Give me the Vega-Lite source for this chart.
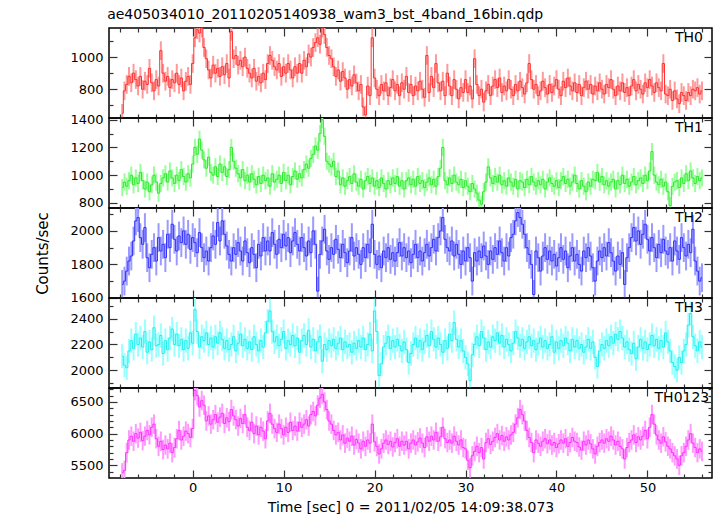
{
"$schema": "https://vega.github.io/schema/vega-lite/v6.json",
"autosize": {"type": "pad"},
"padding": {"left": 35, "top": 8, "right": 5, "bottom": 2},
"title": {"text": "ae405034010_20110205140938_wam3_bst_4band_16bin.qdp", "anchor": "start", "frame": "bounds", "dx": 72, "offset": 3, "fontSize": 14, "fontWeight": "normal", "font": "DejaVu Sans", "color": "#000"},
"data": {"values": [
{"t":-7.75,"a":650,"b":910,"c":1680,"d":2110,"e":5380,"ea":58,"eb":62,"ec":86,"ed":94,"ee":154},{"t":-7.5,"a":790,"b":950,"c":1700,"d":2040,"e":5420,"ea":58,"eb":62,"ec":86,"ed":94,"ee":154},{"t":-7.25,"a":830,"b":920,"c":1760,"d":2020,"e":5700,"ea":58,"eb":62,"ec":86,"ed":94,"ee":154},{"t":-7,"a":880,"b":960,"c":1820,"d":2150,"e":5900,"ea":58,"eb":62,"ec":86,"ed":94,"ee":154},
{"t":-6.75,"a":840,"b":1000,"c":1850,"d":2230,"e":5960,"ea":58,"eb":62,"ec":86,"ed":94,"ee":154},{"t":-6.5,"a":900,"b":930,"c":1940,"d":2170,"e":5880,"ea":58,"eb":62,"ec":86,"ed":94,"ee":154},{"t":-6.25,"a":860,"b":980,"c":2060,"d":2280,"e":6000,"ea":58,"eb":62,"ec":86,"ed":94,"ee":154},{"t":-6,"a":820,"b":940,"c":2080,"d":2200,"e":5930,"ea":58,"eb":62,"ec":86,"ed":94,"ee":154},
{"t":-5.75,"a":880,"b":1020,"c":1960,"d":2250,"e":6020,"ea":58,"eb":62,"ec":86,"ed":94,"ee":154},{"t":-5.5,"a":800,"b":960,"c":1920,"d":2180,"e":5890,"ea":58,"eb":62,"ec":86,"ed":94,"ee":154},{"t":-5.25,"a":850,"b":900,"c":2020,"d":2300,"e":5960,"ea":58,"eb":62,"ec":86,"ed":94,"ee":154},{"t":-5,"a":830,"b":950,"c":1840,"d":2140,"e":6050,"ea":58,"eb":62,"ec":86,"ed":94,"ee":154},
{"t":-4.75,"a":930,"b":880,"c":1780,"d":2220,"e":5980,"ea":58,"eb":62,"ec":86,"ed":94,"ee":154},{"t":-4.5,"a":840,"b":930,"c":1860,"d":2160,"e":6100,"ea":58,"eb":62,"ec":86,"ed":94,"ee":154},{"t":-4.25,"a":790,"b":1000,"c":1900,"d":2330,"e":6150,"ea":58,"eb":62,"ec":86,"ed":94,"ee":154},{"t":-4,"a":860,"b":950,"c":1820,"d":2190,"e":5920,"ea":58,"eb":62,"ec":86,"ed":94,"ee":154},
{"t":-3.75,"a":820,"b":870,"c":1960,"d":2200,"e":5800,"ea":58,"eb":62,"ec":86,"ed":94,"ee":154},{"t":-3.5,"a":1040,"b":940,"c":1880,"d":2270,"e":5880,"ea":58,"eb":62,"ec":86,"ed":94,"ee":154},{"t":-3.25,"a":900,"b":980,"c":1920,"d":2130,"e":5750,"ea":58,"eb":62,"ec":86,"ed":94,"ee":154},{"t":-3,"a":850,"b":1010,"c":1840,"d":2230,"e":5820,"ea":58,"eb":62,"ec":86,"ed":94,"ee":154},
{"t":-2.75,"a":880,"b":950,"c":1980,"d":2160,"e":5760,"ea":58,"eb":62,"ec":86,"ed":94,"ee":154},{"t":-2.5,"a":810,"b":1030,"c":1900,"d":2250,"e":5850,"ea":58,"eb":62,"ec":86,"ed":94,"ee":154},{"t":-2.25,"a":860,"b":980,"c":2040,"d":2320,"e":5700,"ea":58,"eb":62,"ec":86,"ed":94,"ee":154},{"t":-2,"a":840,"b":940,"c":1950,"d":2200,"e":5780,"ea":58,"eb":62,"ec":86,"ed":94,"ee":154},
{"t":-1.75,"a":900,"b":1000,"c":1880,"d":2280,"e":5920,"ea":58,"eb":62,"ec":86,"ed":94,"ee":154},{"t":-1.5,"a":830,"b":960,"c":1970,"d":2190,"e":6050,"ea":58,"eb":62,"ec":86,"ed":94,"ee":154},{"t":-1.25,"a":870,"b":1040,"c":1930,"d":2240,"e":5900,"ea":58,"eb":62,"ec":86,"ed":94,"ee":154},{"t":-1,"a":790,"b":990,"c":2000,"d":2160,"e":5960,"ea":58,"eb":62,"ec":86,"ed":94,"ee":154},
{"t":-0.75,"a":850,"b":950,"c":1920,"d":2230,"e":6040,"ea":58,"eb":62,"ec":86,"ed":94,"ee":154},{"t":-0.5,"a":880,"b":1010,"c":1980,"d":2170,"e":6000,"ea":58,"eb":62,"ec":86,"ed":94,"ee":154},{"t":-0.25,"a":830,"b":980,"c":1890,"d":2290,"e":5940,"ea":58,"eb":62,"ec":86,"ed":94,"ee":154},{"t":0,"a":960,"b":1080,"c":1960,"d":2210,"e":6080,"ea":58,"eb":62,"ec":86,"ed":94,"ee":154},
{"t":0.25,"a":1120,"b":1200,"c":1930,"d":2470,"e":6680,"ea":58,"eb":62,"ec":86,"ed":94,"ee":154},{"t":0.5,"a":1170,"b":1150,"c":1870,"d":2300,"e":6600,"ea":58,"eb":62,"ec":86,"ed":94,"ee":154},{"t":0.75,"a":1150,"b":1260,"c":1990,"d":2180,"e":6420,"ea":58,"eb":62,"ec":86,"ed":94,"ee":154},{"t":1,"a":1180,"b":1180,"c":1900,"d":2260,"e":6520,"ea":58,"eb":62,"ec":86,"ed":94,"ee":154},
{"t":1.25,"a":1060,"b":1110,"c":1840,"d":2230,"e":6450,"ea":58,"eb":62,"ec":86,"ed":94,"ee":154},{"t":1.5,"a":990,"b":1050,"c":1880,"d":2290,"e":6200,"ea":58,"eb":62,"ec":86,"ed":94,"ee":154},{"t":1.75,"a":920,"b":1130,"c":1820,"d":2200,"e":6280,"ea":58,"eb":62,"ec":86,"ed":94,"ee":154},{"t":2,"a":870,"b":1020,"c":1900,"d":2250,"e":6150,"ea":58,"eb":62,"ec":86,"ed":94,"ee":154},
{"t":2.25,"a":950,"b":1000,"c":1970,"d":2180,"e":6220,"ea":58,"eb":62,"ec":86,"ed":94,"ee":154},{"t":2.5,"a":900,"b":1060,"c":1920,"d":2260,"e":6300,"ea":58,"eb":62,"ec":86,"ed":94,"ee":154},{"t":2.75,"a":930,"b":990,"c":2050,"d":2210,"e":6180,"ea":58,"eb":62,"ec":86,"ed":94,"ee":154},{"t":3,"a":880,"b":1080,"c":1940,"d":2290,"e":6260,"ea":58,"eb":62,"ec":86,"ed":94,"ee":154},
{"t":3.25,"a":940,"b":1020,"c":2060,"d":2240,"e":6320,"ea":58,"eb":62,"ec":86,"ed":94,"ee":154},{"t":3.5,"a":890,"b":1060,"c":1980,"d":2170,"e":6160,"ea":58,"eb":62,"ec":86,"ed":94,"ee":154},{"t":3.75,"a":960,"b":990,"c":1910,"d":2230,"e":6250,"ea":58,"eb":62,"ec":86,"ed":94,"ee":154},{"t":4,"a":870,"b":1040,"c":1860,"d":2160,"e":6190,"ea":58,"eb":62,"ec":86,"ed":94,"ee":154},
{"t":4.25,"a":1160,"b":1200,"c":1820,"d":2200,"e":6380,"ea":58,"eb":62,"ec":86,"ed":94,"ee":154},{"t":4.5,"a":990,"b":1100,"c":1900,"d":2260,"e":6280,"ea":58,"eb":62,"ec":86,"ed":94,"ee":154},{"t":4.75,"a":1010,"b":1050,"c":1860,"d":2150,"e":6220,"ea":58,"eb":62,"ec":86,"ed":94,"ee":154},{"t":5,"a":950,"b":1010,"c":1930,"d":2210,"e":6120,"ea":58,"eb":62,"ec":86,"ed":94,"ee":154},
{"t":5.25,"a":980,"b":980,"c":1880,"d":2280,"e":6240,"ea":58,"eb":62,"ec":86,"ed":94,"ee":154},{"t":5.5,"a":940,"b":1040,"c":1820,"d":2190,"e":6160,"ea":58,"eb":62,"ec":86,"ed":94,"ee":154},{"t":5.75,"a":1000,"b":960,"c":1940,"d":2240,"e":6300,"ea":58,"eb":62,"ec":86,"ed":94,"ee":154},{"t":6,"a":930,"b":1000,"c":1870,"d":2170,"e":6100,"ea":58,"eb":62,"ec":86,"ed":94,"ee":154},
{"t":6.25,"a":900,"b":950,"c":1810,"d":2220,"e":6050,"ea":58,"eb":62,"ec":86,"ed":94,"ee":154},{"t":6.5,"a":870,"b":1010,"c":1900,"d":2160,"e":6180,"ea":58,"eb":62,"ec":86,"ed":94,"ee":154},{"t":6.75,"a":930,"b":970,"c":1860,"d":2260,"e":6000,"ea":58,"eb":62,"ec":86,"ed":94,"ee":154},{"t":7,"a":850,"b":930,"c":1780,"d":2200,"e":6120,"ea":58,"eb":62,"ec":86,"ed":94,"ee":154},
{"t":7.25,"a":880,"b":990,"c":1920,"d":2150,"e":5980,"ea":58,"eb":62,"ec":86,"ed":94,"ee":154},{"t":7.5,"a":840,"b":940,"c":1850,"d":2230,"e":6100,"ea":58,"eb":62,"ec":86,"ed":94,"ee":154},{"t":7.75,"a":900,"b":1000,"c":1960,"d":2180,"e":6040,"ea":58,"eb":62,"ec":86,"ed":94,"ee":154},{"t":8,"a":860,"b":960,"c":1880,"d":2290,"e":5920,"ea":58,"eb":62,"ec":86,"ed":94,"ee":154},
{"t":8.25,"a":960,"b":980,"c":1940,"d":2380,"e":6200,"ea":58,"eb":62,"ec":86,"ed":94,"ee":154},{"t":8.5,"a":1010,"b":920,"c":1880,"d":2460,"e":6320,"ea":58,"eb":62,"ec":86,"ed":94,"ee":154},{"t":8.75,"a":980,"b":1010,"c":1990,"d":2300,"e":6150,"ea":58,"eb":62,"ec":86,"ed":94,"ee":154},{"t":9,"a":940,"b":950,"c":1920,"d":2220,"e":6080,"ea":58,"eb":62,"ec":86,"ed":94,"ee":154},
{"t":9.25,"a":920,"b":970,"c":1860,"d":2260,"e":6020,"ea":58,"eb":62,"ec":86,"ed":94,"ee":154},{"t":9.5,"a":960,"b":1000,"c":1950,"d":2190,"e":6150,"ea":58,"eb":62,"ec":86,"ed":94,"ee":154},{"t":9.75,"a":880,"b":940,"c":1900,"d":2240,"e":6080,"ea":58,"eb":62,"ec":86,"ed":94,"ee":154},{"t":10,"a":940,"b":1020,"c":1980,"d":2300,"e":5980,"ea":58,"eb":62,"ec":86,"ed":94,"ee":154},
{"t":10.25,"a":900,"b":960,"c":1910,"d":2170,"e":6100,"ea":58,"eb":62,"ec":86,"ed":94,"ee":154},{"t":10.5,"a":960,"b":1000,"c":1960,"d":2230,"e":6020,"ea":58,"eb":62,"ec":86,"ed":94,"ee":154},{"t":10.75,"a":920,"b":930,"c":1870,"d":2200,"e":6180,"ea":58,"eb":62,"ec":86,"ed":94,"ee":154},{"t":11,"a":870,"b":990,"c":1940,"d":2270,"e":6050,"ea":58,"eb":62,"ec":86,"ed":94,"ee":154},
{"t":11.25,"a":940,"b":1030,"c":1990,"d":2190,"e":6120,"ea":58,"eb":62,"ec":86,"ed":94,"ee":154},{"t":11.5,"a":900,"b":970,"c":1920,"d":2250,"e":6040,"ea":58,"eb":62,"ec":86,"ed":94,"ee":154},{"t":11.75,"a":960,"b":1010,"c":1880,"d":2140,"e":6180,"ea":58,"eb":62,"ec":86,"ed":94,"ee":154},{"t":12,"a":900,"b":980,"c":1960,"d":2230,"e":6100,"ea":58,"eb":62,"ec":86,"ed":94,"ee":154},
{"t":12.25,"a":980,"b":1040,"c":1900,"d":2270,"e":6150,"ea":58,"eb":62,"ec":86,"ed":94,"ee":154},{"t":12.5,"a":940,"b":1080,"c":1850,"d":2200,"e":6220,"ea":58,"eb":62,"ec":86,"ed":94,"ee":154},{"t":12.75,"a":1020,"b":1050,"c":1940,"d":2310,"e":6120,"ea":58,"eb":62,"ec":86,"ed":94,"ee":154},{"t":13,"a":1000,"b":1120,"c":1870,"d":2180,"e":6300,"ea":58,"eb":62,"ec":86,"ed":94,"ee":154},
{"t":13.25,"a":1060,"b":1150,"c":2000,"d":2240,"e":6350,"ea":58,"eb":62,"ec":86,"ed":94,"ee":154},{"t":13.5,"a":1090,"b":1210,"c":1920,"d":2150,"e":6280,"ea":58,"eb":62,"ec":86,"ed":94,"ee":154},{"t":13.75,"a":1120,"b":1180,"c":1640,"d":2220,"e":6450,"ea":58,"eb":62,"ec":86,"ed":94,"ee":154},{"t":14,"a":1080,"b":1300,"c":1860,"d":2260,"e":6560,"ea":58,"eb":62,"ec":86,"ed":94,"ee":154},
{"t":14.25,"a":1180,"b":1400,"c":1940,"d":2070,"e":6620,"ea":58,"eb":62,"ec":86,"ed":94,"ee":154},{"t":14.5,"a":1140,"b":1280,"c":2010,"d":2200,"e":6500,"ea":58,"eb":62,"ec":86,"ed":94,"ee":154},{"t":14.75,"a":1060,"b":1100,"c":1880,"d":2160,"e":6380,"ea":58,"eb":62,"ec":86,"ed":94,"ee":154},{"t":15,"a":1010,"b":1080,"c":1830,"d":2230,"e":6200,"ea":58,"eb":62,"ec":86,"ed":94,"ee":154},
{"t":15.25,"a":990,"b":1060,"c":1900,"d":2190,"e":6150,"ea":58,"eb":62,"ec":86,"ed":94,"ee":154},{"t":15.5,"a":940,"b":1100,"c":1860,"d":2240,"e":6050,"ea":58,"eb":62,"ec":86,"ed":94,"ee":154},{"t":15.75,"a":880,"b":990,"c":1950,"d":2170,"e":5980,"ea":58,"eb":62,"ec":86,"ed":94,"ee":154},{"t":16,"a":920,"b":1030,"c":1890,"d":2210,"e":6020,"ea":58,"eb":62,"ec":86,"ed":94,"ee":154},
{"t":16.25,"a":850,"b":930,"c":1840,"d":2250,"e":5900,"ea":58,"eb":62,"ec":86,"ed":94,"ee":154},{"t":16.5,"a":910,"b":980,"c":1920,"d":2160,"e":5980,"ea":58,"eb":62,"ec":86,"ed":94,"ee":154},{"t":16.75,"a":870,"b":920,"c":1870,"d":2220,"e":5850,"ea":58,"eb":62,"ec":86,"ed":94,"ee":154},{"t":17,"a":800,"b":960,"c":1810,"d":2180,"e":5930,"ea":58,"eb":62,"ec":86,"ed":94,"ee":154},
{"t":17.25,"a":860,"b":990,"c":1880,"d":2200,"e":5880,"ea":58,"eb":62,"ec":86,"ed":94,"ee":154},{"t":17.5,"a":820,"b":940,"c":1960,"d":2140,"e":5960,"ea":58,"eb":62,"ec":86,"ed":94,"ee":154},{"t":17.75,"a":890,"b":1010,"c":1850,"d":2210,"e":5820,"ea":58,"eb":62,"ec":86,"ed":94,"ee":154},{"t":18,"a":840,"b":950,"c":1900,"d":2170,"e":5910,"ea":58,"eb":62,"ec":86,"ed":94,"ee":154},
{"t":18.25,"a":790,"b":920,"c":1860,"d":2230,"e":5850,"ea":58,"eb":62,"ec":86,"ed":94,"ee":154},{"t":18.5,"a":830,"b":970,"c":1800,"d":2180,"e":5760,"ea":58,"eb":62,"ec":86,"ed":94,"ee":154},{"t":18.75,"a":690,"b":900,"c":1900,"d":2250,"e":5880,"ea":58,"eb":62,"ec":86,"ed":94,"ee":154},{"t":19,"a":640,"b":960,"c":1840,"d":2160,"e":5800,"ea":58,"eb":62,"ec":86,"ed":94,"ee":154},
{"t":19.25,"a":820,"b":990,"c":1920,"d":2200,"e":5900,"ea":58,"eb":62,"ec":86,"ed":94,"ee":154},{"t":19.5,"a":760,"b":940,"c":1870,"d":2280,"e":5850,"ea":58,"eb":62,"ec":86,"ed":94,"ee":154},{"t":19.75,"a":1120,"b":980,"c":2040,"d":2150,"e":6150,"ea":58,"eb":62,"ec":86,"ed":94,"ee":154},{"t":20,"a":870,"b":920,"c":1860,"d":2460,"e":5870,"ea":58,"eb":62,"ec":86,"ed":94,"ee":154},
{"t":20.25,"a":800,"b":960,"c":1800,"d":2300,"e":5800,"ea":58,"eb":62,"ec":86,"ed":94,"ee":154},{"t":20.5,"a":760,"b":910,"c":1850,"d":1960,"e":5680,"ea":58,"eb":62,"ec":86,"ed":94,"ee":154},{"t":20.75,"a":830,"b":980,"c":1780,"d":2050,"e":5760,"ea":58,"eb":62,"ec":86,"ed":94,"ee":154},{"t":21,"a":790,"b":940,"c":1880,"d":2180,"e":5850,"ea":58,"eb":62,"ec":86,"ed":94,"ee":154},
{"t":21.25,"a":840,"b":900,"c":1840,"d":2210,"e":5900,"ea":58,"eb":62,"ec":86,"ed":94,"ee":154},{"t":21.5,"a":760,"b":960,"c":1900,"d":2260,"e":5830,"ea":58,"eb":62,"ec":86,"ed":94,"ee":154},{"t":21.75,"a":810,"b":930,"c":1830,"d":2170,"e":5880,"ea":58,"eb":62,"ec":86,"ed":94,"ee":154},{"t":22,"a":860,"b":980,"c":1870,"d":2230,"e":5790,"ea":58,"eb":62,"ec":86,"ed":94,"ee":154},
{"t":22.25,"a":790,"b":940,"c":1820,"d":2180,"e":5860,"ea":58,"eb":62,"ec":86,"ed":94,"ee":154},{"t":22.5,"a":830,"b":990,"c":1870,"d":2240,"e":5920,"ea":58,"eb":62,"ec":86,"ed":94,"ee":154},{"t":22.75,"a":760,"b":920,"c":1930,"d":2190,"e":5800,"ea":58,"eb":62,"ec":86,"ed":94,"ee":154},{"t":23,"a":840,"b":960,"c":1850,"d":2150,"e":5880,"ea":58,"eb":62,"ec":86,"ed":94,"ee":154},
{"t":23.25,"a":800,"b":900,"c":1900,"d":2220,"e":5820,"ea":58,"eb":62,"ec":86,"ed":94,"ee":154},{"t":23.5,"a":880,"b":960,"c":1840,"d":2160,"e":5880,"ea":58,"eb":62,"ec":86,"ed":94,"ee":154},{"t":23.75,"a":780,"b":980,"c":1880,"d":2060,"e":5760,"ea":58,"eb":62,"ec":86,"ed":94,"ee":154},{"t":24,"a":830,"b":930,"c":1810,"d":2130,"e":5850,"ea":58,"eb":62,"ec":86,"ed":94,"ee":154},
{"t":24.25,"a":760,"b":970,"c":1860,"d":2200,"e":5900,"ea":58,"eb":62,"ec":86,"ed":94,"ee":154},{"t":24.5,"a":820,"b":920,"c":1920,"d":2250,"e":5820,"ea":58,"eb":62,"ec":86,"ed":94,"ee":154},{"t":24.75,"a":790,"b":990,"c":1840,"d":2180,"e":5870,"ea":58,"eb":62,"ec":86,"ed":94,"ee":154},{"t":25,"a":850,"b":940,"c":1880,"d":2230,"e":5930,"ea":58,"eb":62,"ec":86,"ed":94,"ee":154},
{"t":25.25,"a":800,"b":960,"c":1820,"d":2160,"e":5850,"ea":58,"eb":62,"ec":86,"ed":94,"ee":154},{"t":25.5,"a":750,"b":910,"c":1870,"d":2220,"e":5780,"ea":58,"eb":62,"ec":86,"ed":94,"ee":154},{"t":25.75,"a":1010,"b":950,"c":1920,"d":2270,"e":5950,"ea":58,"eb":62,"ec":86,"ed":94,"ee":154},{"t":26,"a":780,"b":980,"c":1850,"d":2190,"e":5880,"ea":58,"eb":62,"ec":86,"ed":94,"ee":154},
{"t":26.25,"a":880,"b":930,"c":1900,"d":2300,"e":5960,"ea":58,"eb":62,"ec":86,"ed":94,"ee":154},{"t":26.5,"a":810,"b":970,"c":1950,"d":2240,"e":5900,"ea":58,"eb":62,"ec":86,"ed":94,"ee":154},{"t":26.75,"a":960,"b":920,"c":1880,"d":2180,"e":6020,"ea":58,"eb":62,"ec":86,"ed":94,"ee":154},{"t":27,"a":840,"b":990,"c":1960,"d":2250,"e":5880,"ea":58,"eb":62,"ec":86,"ed":94,"ee":154},
{"t":27.25,"a":790,"b":1050,"c":2000,"d":2200,"e":5950,"ea":58,"eb":62,"ec":86,"ed":94,"ee":154},{"t":27.5,"a":850,"b":1200,"c":2080,"d":2140,"e":6100,"ea":58,"eb":62,"ec":86,"ed":94,"ee":154},{"t":27.75,"a":760,"b":960,"c":1950,"d":2230,"e":5920,"ea":58,"eb":62,"ec":86,"ed":94,"ee":154},{"t":28,"a":900,"b":930,"c":1900,"d":2170,"e":5860,"ea":58,"eb":62,"ec":86,"ed":94,"ee":154},
{"t":28.25,"a":820,"b":980,"c":1880,"d":2280,"e":5900,"ea":58,"eb":62,"ec":86,"ed":94,"ee":154},{"t":28.5,"a":760,"b":940,"c":1940,"d":2230,"e":5850,"ea":58,"eb":62,"ec":86,"ed":94,"ee":154},{"t":28.75,"a":860,"b":1000,"c":1850,"d":2370,"e":5960,"ea":58,"eb":62,"ec":86,"ed":94,"ee":154},{"t":29,"a":800,"b":950,"c":1920,"d":2240,"e":5880,"ea":58,"eb":62,"ec":86,"ed":94,"ee":154},
{"t":29.25,"a":740,"b":930,"c":1860,"d":2180,"e":5820,"ea":58,"eb":62,"ec":86,"ed":94,"ee":154},{"t":29.5,"a":810,"b":970,"c":1800,"d":2230,"e":5900,"ea":58,"eb":62,"ec":86,"ed":94,"ee":154},{"t":29.75,"a":780,"b":910,"c":1880,"d":2150,"e":5780,"ea":58,"eb":62,"ec":86,"ed":94,"ee":154},{"t":30,"a":860,"b":960,"c":1820,"d":2100,"e":5760,"ea":58,"eb":62,"ec":86,"ed":94,"ee":154},
{"t":30.25,"a":780,"b":920,"c":1900,"d":2050,"e":5580,"ea":58,"eb":62,"ec":86,"ed":94,"ee":154},{"t":30.5,"a":820,"b":880,"c":1840,"d":1920,"e":5460,"ea":58,"eb":62,"ec":86,"ed":94,"ee":154},{"t":30.75,"a":740,"b":940,"c":1700,"d":2120,"e":5650,"ea":58,"eb":62,"ec":86,"ed":94,"ee":154},{"t":31,"a":990,"b":900,"c":1870,"d":2200,"e":5720,"ea":58,"eb":62,"ec":86,"ed":94,"ee":154},
{"t":31.25,"a":830,"b":870,"c":1820,"d":2260,"e":5800,"ea":58,"eb":62,"ec":86,"ed":94,"ee":154},{"t":31.5,"a":760,"b":820,"c":1880,"d":2190,"e":5700,"ea":58,"eb":62,"ec":86,"ed":94,"ee":154},{"t":31.75,"a":800,"b":790,"c":1840,"d":2300,"e":5780,"ea":58,"eb":62,"ec":86,"ed":94,"ee":154},{"t":32,"a":720,"b":880,"c":1910,"d":2250,"e":5600,"ea":58,"eb":62,"ec":86,"ed":94,"ee":154},
{"t":32.25,"a":790,"b":950,"c":1850,"d":2160,"e":5860,"ea":58,"eb":62,"ec":86,"ed":94,"ee":154},{"t":32.5,"a":830,"b":1060,"c":1800,"d":2220,"e":5920,"ea":58,"eb":62,"ec":86,"ed":94,"ee":154},{"t":32.75,"a":760,"b":980,"c":1880,"d":2180,"e":5830,"ea":58,"eb":62,"ec":86,"ed":94,"ee":154},{"t":33,"a":820,"b":940,"c":1830,"d":2260,"e":5880,"ea":58,"eb":62,"ec":86,"ed":94,"ee":154},
{"t":33.25,"a":860,"b":990,"c":1900,"d":2230,"e":5940,"ea":58,"eb":62,"ec":86,"ed":94,"ee":154},{"t":33.5,"a":810,"b":950,"c":1860,"d":2290,"e":6000,"ea":58,"eb":62,"ec":86,"ed":94,"ee":154},{"t":33.75,"a":870,"b":1000,"c":1940,"d":2210,"e":5900,"ea":58,"eb":62,"ec":86,"ed":94,"ee":154},{"t":34,"a":780,"b":930,"c":1870,"d":2270,"e":5970,"ea":58,"eb":62,"ec":86,"ed":94,"ee":154},
{"t":34.25,"a":820,"b":960,"c":1820,"d":2180,"e":5880,"ea":58,"eb":62,"ec":86,"ed":94,"ee":154},{"t":34.5,"a":790,"b":920,"c":1900,"d":2240,"e":5950,"ea":58,"eb":62,"ec":86,"ed":94,"ee":154},{"t":34.75,"a":860,"b":980,"c":1850,"d":2200,"e":5900,"ea":58,"eb":62,"ec":86,"ed":94,"ee":154},{"t":35,"a":800,"b":950,"c":1960,"d":2150,"e":5980,"ea":58,"eb":62,"ec":86,"ed":94,"ee":154},
{"t":35.25,"a":760,"b":920,"c":1980,"d":2210,"e":6020,"ea":58,"eb":62,"ec":86,"ed":94,"ee":154},{"t":35.5,"a":830,"b":970,"c":2060,"d":2300,"e":6150,"ea":58,"eb":62,"ec":86,"ed":94,"ee":154},{"t":35.75,"a":790,"b":900,"c":2110,"d":2250,"e":6250,"ea":58,"eb":62,"ec":86,"ed":94,"ee":154},{"t":36,"a":850,"b":960,"c":2080,"d":2190,"e":6380,"ea":58,"eb":62,"ec":86,"ed":94,"ee":154},
{"t":36.25,"a":810,"b":950,"c":2040,"d":2240,"e":6300,"ea":58,"eb":62,"ec":86,"ed":94,"ee":154},{"t":36.5,"a":770,"b":910,"c":1980,"d":2170,"e":6200,"ea":58,"eb":62,"ec":86,"ed":94,"ee":154},{"t":36.75,"a":840,"b":970,"c":1900,"d":2220,"e":6050,"ea":58,"eb":62,"ec":86,"ed":94,"ee":154},{"t":37,"a":960,"b":930,"c":1860,"d":2260,"e":5940,"ea":58,"eb":62,"ec":86,"ed":94,"ee":154},
{"t":37.25,"a":860,"b":990,"c":1800,"d":2190,"e":5860,"ea":58,"eb":62,"ec":86,"ed":94,"ee":154},{"t":37.5,"a":800,"b":950,"c":1620,"d":2230,"e":5700,"ea":58,"eb":62,"ec":86,"ed":94,"ee":154},{"t":37.75,"a":830,"b":920,"c":1880,"d":2160,"e":5900,"ea":58,"eb":62,"ec":86,"ed":94,"ee":154},{"t":38,"a":760,"b":960,"c":1840,"d":2210,"e":5850,"ea":58,"eb":62,"ec":86,"ed":94,"ee":154},
{"t":38.25,"a":790,"b":930,"c":1760,"d":2250,"e":5800,"ea":58,"eb":62,"ec":86,"ed":94,"ee":154},{"t":38.5,"a":850,"b":970,"c":1850,"d":2180,"e":5880,"ea":58,"eb":62,"ec":86,"ed":94,"ee":154},{"t":38.75,"a":810,"b":900,"c":1900,"d":2230,"e":5920,"ea":58,"eb":62,"ec":86,"ed":94,"ee":154},{"t":39,"a":770,"b":950,"c":1830,"d":2170,"e":5840,"ea":58,"eb":62,"ec":86,"ed":94,"ee":154},
{"t":39.25,"a":830,"b":980,"c":1880,"d":2200,"e":5900,"ea":58,"eb":62,"ec":86,"ed":94,"ee":154},{"t":39.5,"a":780,"b":940,"c":1820,"d":2260,"e":5820,"ea":58,"eb":62,"ec":86,"ed":94,"ee":154},{"t":39.75,"a":820,"b":920,"c":1860,"d":2140,"e":5860,"ea":58,"eb":62,"ec":86,"ed":94,"ee":154},{"t":40,"a":860,"b":960,"c":1790,"d":2220,"e":5780,"ea":58,"eb":62,"ec":86,"ed":94,"ee":154},
{"t":40.25,"a":800,"b":910,"c":1840,"d":2170,"e":5840,"ea":58,"eb":62,"ec":86,"ed":94,"ee":154},{"t":40.5,"a":760,"b":960,"c":1900,"d":2230,"e":5900,"ea":58,"eb":62,"ec":86,"ed":94,"ee":154},{"t":40.75,"a":850,"b":990,"c":1830,"d":2190,"e":5850,"ea":58,"eb":62,"ec":86,"ed":94,"ee":154},{"t":41,"a":810,"b":940,"c":1880,"d":2250,"e":5920,"ea":58,"eb":62,"ec":86,"ed":94,"ee":154},
{"t":41.25,"a":870,"b":970,"c":1780,"d":2210,"e":5800,"ea":58,"eb":62,"ec":86,"ed":94,"ee":154},{"t":41.5,"a":820,"b":920,"c":1850,"d":2150,"e":5860,"ea":58,"eb":62,"ec":86,"ed":94,"ee":154},{"t":41.75,"a":790,"b":950,"c":1900,"d":2240,"e":5940,"ea":58,"eb":62,"ec":86,"ed":94,"ee":154},{"t":42,"a":840,"b":1000,"c":1820,"d":2180,"e":5880,"ea":58,"eb":62,"ec":86,"ed":94,"ee":154},
{"t":42.25,"a":780,"b":940,"c":1860,"d":2230,"e":5860,"ea":58,"eb":62,"ec":86,"ed":94,"ee":154},{"t":42.5,"a":830,"b":900,"c":1800,"d":2170,"e":5790,"ea":58,"eb":62,"ec":86,"ed":94,"ee":154},{"t":42.75,"a":760,"b":960,"c":1760,"d":2200,"e":5740,"ea":58,"eb":62,"ec":86,"ed":94,"ee":154},{"t":43,"a":810,"b":920,"c":1880,"d":2140,"e":5880,"ea":58,"eb":62,"ec":86,"ed":94,"ee":154},
{"t":43.25,"a":850,"b":880,"c":1840,"d":2180,"e":5820,"ea":58,"eb":62,"ec":86,"ed":94,"ee":154},{"t":43.5,"a":800,"b":950,"c":1900,"d":2240,"e":5900,"ea":58,"eb":62,"ec":86,"ed":94,"ee":154},{"t":43.75,"a":830,"b":920,"c":1850,"d":2170,"e":5840,"ea":58,"eb":62,"ec":86,"ed":94,"ee":154},{"t":44,"a":770,"b":970,"c":1780,"d":2220,"e":5760,"ea":58,"eb":62,"ec":86,"ed":94,"ee":154},
{"t":44.25,"a":820,"b":960,"c":1700,"d":2100,"e":5680,"ea":58,"eb":62,"ec":86,"ed":94,"ee":154},{"t":44.5,"a":790,"b":1020,"c":1820,"d":2030,"e":5800,"ea":58,"eb":62,"ec":86,"ed":94,"ee":154},{"t":44.75,"a":840,"b":950,"c":1880,"d":2150,"e":5860,"ea":58,"eb":62,"ec":86,"ed":94,"ee":154},{"t":45,"a":800,"b":990,"c":1840,"d":2200,"e":5900,"ea":58,"eb":62,"ec":86,"ed":94,"ee":154},
{"t":45.25,"a":770,"b":930,"c":1900,"d":2170,"e":5850,"ea":58,"eb":62,"ec":86,"ed":94,"ee":154},{"t":45.5,"a":830,"b":960,"c":1850,"d":2230,"e":5920,"ea":58,"eb":62,"ec":86,"ed":94,"ee":154},{"t":45.75,"a":810,"b":920,"c":1930,"d":2190,"e":5880,"ea":58,"eb":62,"ec":86,"ed":94,"ee":154},{"t":46,"a":860,"b":950,"c":1870,"d":2260,"e":5960,"ea":58,"eb":62,"ec":86,"ed":94,"ee":154},
{"t":46.25,"a":800,"b":970,"c":1820,"d":2210,"e":5900,"ea":58,"eb":62,"ec":86,"ed":94,"ee":154},{"t":46.5,"a":760,"b":900,"c":1760,"d":2280,"e":5820,"ea":58,"eb":62,"ec":86,"ed":94,"ee":154},{"t":46.75,"a":820,"b":960,"c":1850,"d":2240,"e":5880,"ea":58,"eb":62,"ec":86,"ed":94,"ee":154},{"t":47,"a":790,"b":930,"c":1800,"d":2300,"e":5800,"ea":58,"eb":62,"ec":86,"ed":94,"ee":154},
{"t":47.25,"a":840,"b":1000,"c":1870,"d":2250,"e":5760,"ea":58,"eb":62,"ec":86,"ed":94,"ee":154},{"t":47.5,"a":780,"b":940,"c":1680,"d":2180,"e":5600,"ea":58,"eb":62,"ec":86,"ed":94,"ee":154},{"t":47.75,"a":810,"b":970,"c":1840,"d":2220,"e":5780,"ea":58,"eb":62,"ec":86,"ed":94,"ee":154},{"t":48,"a":760,"b":920,"c":1900,"d":2160,"e":5860,"ea":58,"eb":62,"ec":86,"ed":94,"ee":154},
{"t":48.25,"a":820,"b":950,"c":1960,"d":2130,"e":5900,"ea":58,"eb":62,"ec":86,"ed":94,"ee":154},{"t":48.5,"a":860,"b":990,"c":2020,"d":2210,"e":5980,"ea":58,"eb":62,"ec":86,"ed":94,"ee":154},{"t":48.75,"a":790,"b":930,"c":1940,"d":2090,"e":5860,"ea":58,"eb":62,"ec":86,"ed":94,"ee":154},{"t":49,"a":830,"b":960,"c":2000,"d":2180,"e":5950,"ea":58,"eb":62,"ec":86,"ed":94,"ee":154},
{"t":49.25,"a":800,"b":980,"c":1920,"d":2240,"e":5900,"ea":58,"eb":62,"ec":86,"ed":94,"ee":154},{"t":49.5,"a":770,"b":940,"c":1980,"d":2170,"e":5960,"ea":58,"eb":62,"ec":86,"ed":94,"ee":154},{"t":49.75,"a":840,"b":1000,"c":2040,"d":2220,"e":6050,"ea":58,"eb":62,"ec":86,"ed":94,"ee":154},{"t":50,"a":810,"b":960,"c":1950,"d":2160,"e":5920,"ea":58,"eb":62,"ec":86,"ed":94,"ee":154},
{"t":50.25,"a":860,"b":1030,"c":1880,"d":2200,"e":6100,"ea":58,"eb":62,"ec":86,"ed":94,"ee":154},{"t":50.5,"a":820,"b":1170,"c":1960,"d":2270,"e":6300,"ea":58,"eb":62,"ec":86,"ed":94,"ee":154},{"t":50.75,"a":780,"b":1000,"c":1900,"d":2190,"e":6150,"ea":58,"eb":62,"ec":86,"ed":94,"ee":154},{"t":51,"a":840,"b":950,"c":1840,"d":2240,"e":5980,"ea":58,"eb":62,"ec":86,"ed":94,"ee":154},
{"t":51.25,"a":810,"b":930,"c":1920,"d":2170,"e":5900,"ea":58,"eb":62,"ec":86,"ed":94,"ee":154},{"t":51.5,"a":790,"b":970,"c":1870,"d":2230,"e":5850,"ea":58,"eb":62,"ec":86,"ed":94,"ee":154},{"t":51.75,"a":960,"b":920,"c":1950,"d":2180,"e":5950,"ea":58,"eb":62,"ec":86,"ed":94,"ee":154},{"t":52,"a":770,"b":950,"c":1880,"d":2290,"e":5870,"ea":58,"eb":62,"ec":86,"ed":94,"ee":154},
{"t":52.25,"a":760,"b":880,"c":1860,"d":2220,"e":5800,"ea":58,"eb":62,"ec":86,"ed":94,"ee":154},{"t":52.5,"a":800,"b":780,"c":1900,"d":2150,"e":5760,"ea":58,"eb":62,"ec":86,"ed":94,"ee":154},{"t":52.75,"a":730,"b":920,"c":1820,"d":2060,"e":5700,"ea":58,"eb":62,"ec":86,"ed":94,"ee":154},{"t":53,"a":790,"b":950,"c":1940,"d":2030,"e":5650,"ea":58,"eb":62,"ec":86,"ed":94,"ee":154},
{"t":53.25,"a":740,"b":960,"c":1880,"d":2000,"e":5600,"ea":58,"eb":62,"ec":86,"ed":94,"ee":154},{"t":53.5,"a":710,"b":910,"c":1830,"d":2100,"e":5500,"ea":58,"eb":62,"ec":86,"ed":94,"ee":154},{"t":53.75,"a":780,"b":980,"c":1960,"d":2060,"e":5650,"ea":58,"eb":62,"ec":86,"ed":94,"ee":154},{"t":54,"a":760,"b":940,"c":1900,"d":2150,"e":5700,"ea":58,"eb":62,"ec":86,"ed":94,"ee":154},
{"t":54.25,"a":730,"b":1010,"c":1850,"d":2200,"e":5800,"ea":58,"eb":62,"ec":86,"ed":94,"ee":154},{"t":54.5,"a":780,"b":960,"c":1920,"d":2350,"e":5900,"ea":58,"eb":62,"ec":86,"ed":94,"ee":154},{"t":54.75,"a":760,"b":1030,"c":1870,"d":2440,"e":6000,"ea":58,"eb":62,"ec":86,"ed":94,"ee":154},{"t":55,"a":800,"b":980,"c":2010,"d":2260,"e":5850,"ea":58,"eb":62,"ec":86,"ed":94,"ee":154},
{"t":55.25,"a":790,"b":940,"c":1820,"d":2190,"e":5780,"ea":58,"eb":62,"ec":86,"ed":94,"ee":154},{"t":55.5,"a":810,"b":990,"c":1760,"d":2150,"e":5700,"ea":58,"eb":62,"ec":86,"ed":94,"ee":154},{"t":55.75,"a":770,"b":960,"c":1700,"d":2220,"e":5760,"ea":58,"eb":62,"ec":86,"ed":94,"ee":154},{"t":56,"a":790,"b":980,"c":1720,"d":2180,"e":5720,"ea":58,"eb":62,"ec":86,"ed":94,"ee":154}
]},
"spacing": 0,
"bounds": "flush",
"vconcat": [
{"width": 603, "height": 90,
 "layer": [
  {"mark": {"type": "errorbar", "color": "#ff9a9a", "thickness": 2},
   "encoding": {
    "x": {"field": "t", "type": "quantitative", "scale": {"domain": [-9.2, 57.1], "nice": false, "zero": false}, "axis": {"orient": "bottom", "values": [-8,-6,-4,-2,0,2,4,6,8,10,12,14,16,18,20,22,24,26,28,30,32,34,36,38,40,42,44,46,48,50,52,54,56], "labels": false, "title": null, "tickSize": {"condition": {"test": "datum.value % 10 === 0", "value": -8}, "value": -4}}},
    "y": {"field": "a", "type": "quantitative", "scale": {"domain": [621, 1181], "nice": false, "zero": false, "clamp": true}, "axis": {"orient": "left", "values": [700,800,900,1000,1100], "format": "d", "labelExpr": "datum.value % 200 === 0 ? datum.label : ''", "title": null, "labelPadding": 14, "tickSize": {"condition": {"test": "datum.value % 200 === 0", "value": -8}, "value": -4}}},
    "yError": {"field": "ea"}}},
  {"mark": {"type": "line", "interpolate": "step", "color": "#ff3030", "strokeWidth": 1},
   "encoding": {
    "x": {"field": "t", "type": "quantitative", "axis": {"orient": "top", "values": [-8,-6,-4,-2,0,2,4,6,8,10,12,14,16,18,20,22,24,26,28,30,32,34,36,38,40,42,44,46,48,50,52,54,56], "labels": false, "title": null, "tickSize": {"condition": {"test": "datum.value % 10 === 0", "value": -8}, "value": -4}}},
    "y": {"field": "a", "type": "quantitative", "axis": {"orient": "right", "values": [700,800,900,1000,1100], "labels": false, "title": null, "tickSize": {"condition": {"test": "datum.value % 200 === 0", "value": -8}, "value": -4}}}}},
  {"data": {"values": [{"lab": "TH0"}]},
   "mark": {"type": "text", "align": "right", "baseline": "top", "dy": 3, "fontSize": 14, "font": "DejaVu Sans", "color": "#000"},
   "encoding": {"text": {"field": "lab"}, "x": {"datum": 56.1, "axis": null}, "y": {"datum": 1181, "axis": null}}}
 ],
 "resolve": {"axis": {"x": "independent", "y": "independent"}}
},
{"width": 603, "height": 90,
 "layer": [
  {"mark": {"type": "errorbar", "color": "#9aff9a", "thickness": 2},
   "encoding": {
    "x": {"field": "t", "type": "quantitative", "scale": {"domain": [-9.2, 57.1], "nice": false, "zero": false}, "axis": {"orient": "bottom", "values": [-8,-6,-4,-2,0,2,4,6,8,10,12,14,16,18,20,22,24,26,28,30,32,34,36,38,40,42,44,46,48,50,52,54,56], "labels": false, "title": null, "tickSize": {"condition": {"test": "datum.value % 10 === 0", "value": -8}, "value": -4}}},
    "y": {"field": "b", "type": "quantitative", "scale": {"domain": [763, 1412], "nice": false, "zero": false, "clamp": true}, "axis": {"orient": "left", "values": [800,900,1000,1100,1200,1300,1400], "format": "d", "labelExpr": "datum.value % 200 === 0 ? datum.label : ''", "title": null, "labelPadding": 14, "tickSize": {"condition": {"test": "datum.value % 200 === 0", "value": -8}, "value": -4}}},
    "yError": {"field": "eb"}}},
  {"mark": {"type": "line", "interpolate": "step", "color": "#2ee82e", "strokeWidth": 1},
   "encoding": {
    "x": {"field": "t", "type": "quantitative", "axis": {"orient": "top", "values": [-8,-6,-4,-2,0,2,4,6,8,10,12,14,16,18,20,22,24,26,28,30,32,34,36,38,40,42,44,46,48,50,52,54,56], "labels": false, "title": null, "tickSize": {"condition": {"test": "datum.value % 10 === 0", "value": -8}, "value": -4}}},
    "y": {"field": "b", "type": "quantitative", "axis": {"orient": "right", "values": [800,900,1000,1100,1200,1300,1400], "labels": false, "title": null, "tickSize": {"condition": {"test": "datum.value % 200 === 0", "value": -8}, "value": -4}}}}},
  {"data": {"values": [{"lab": "TH1"}]},
   "mark": {"type": "text", "align": "right", "baseline": "top", "dy": 3, "fontSize": 14, "font": "DejaVu Sans", "color": "#000"},
   "encoding": {"text": {"field": "lab"}, "x": {"datum": 56.1, "axis": null}, "y": {"datum": 1412, "axis": null}}}
 ],
 "resolve": {"axis": {"x": "independent", "y": "independent"}}
},
{"width": 603, "height": 90,
 "layer": [
  {"mark": {"type": "errorbar", "color": "#9a9aff", "thickness": 2},
   "encoding": {
    "x": {"field": "t", "type": "quantitative", "scale": {"domain": [-9.2, 57.1], "nice": false, "zero": false}, "axis": {"orient": "bottom", "values": [-8,-6,-4,-2,0,2,4,6,8,10,12,14,16,18,20,22,24,26,28,30,32,34,36,38,40,42,44,46,48,50,52,54,56], "labels": false, "title": null, "tickSize": {"condition": {"test": "datum.value % 10 === 0", "value": -8}, "value": -4}}},
    "y": {"field": "c", "type": "quantitative", "scale": {"domain": [1599, 2137], "nice": false, "zero": false, "clamp": true}, "axis": {"orient": "left", "values": [1600,1700,1800,1900,2000,2100], "format": "d", "labelExpr": "datum.value % 200 === 0 ? datum.label : ''", "title": "Counts/sec", "titleFontSize": 15, "titleFont": "DejaVu Sans", "titleFontWeight": "normal", "titleColor": "#000", "titlePadding": 19, "labelPadding": 14, "tickSize": {"condition": {"test": "datum.value % 200 === 0", "value": -8}, "value": -4}}},
    "yError": {"field": "ec"}}},
  {"mark": {"type": "line", "interpolate": "step", "color": "#3030ff", "strokeWidth": 1},
   "encoding": {
    "x": {"field": "t", "type": "quantitative", "axis": {"orient": "top", "values": [-8,-6,-4,-2,0,2,4,6,8,10,12,14,16,18,20,22,24,26,28,30,32,34,36,38,40,42,44,46,48,50,52,54,56], "labels": false, "title": null, "tickSize": {"condition": {"test": "datum.value % 10 === 0", "value": -8}, "value": -4}}},
    "y": {"field": "c", "type": "quantitative", "axis": {"orient": "right", "values": [1600,1700,1800,1900,2000,2100], "labels": false, "title": null, "tickSize": {"condition": {"test": "datum.value % 200 === 0", "value": -8}, "value": -4}}}}},
  {"data": {"values": [{"lab": "TH2"}]},
   "mark": {"type": "text", "align": "right", "baseline": "top", "dy": 3, "fontSize": 14, "font": "DejaVu Sans", "color": "#000"},
   "encoding": {"text": {"field": "lab"}, "x": {"datum": 56.1, "axis": null}, "y": {"datum": 2137, "axis": null}}}
 ],
 "resolve": {"axis": {"x": "independent", "y": "independent"}}
},
{"width": 603, "height": 90,
 "layer": [
  {"mark": {"type": "errorbar", "color": "#9affff", "thickness": 2},
   "encoding": {
    "x": {"field": "t", "type": "quantitative", "scale": {"domain": [-9.2, 57.1], "nice": false, "zero": false}, "axis": {"orient": "bottom", "values": [-8,-6,-4,-2,0,2,4,6,8,10,12,14,16,18,20,22,24,26,28,30,32,34,36,38,40,42,44,46,48,50,52,54,56], "labels": false, "title": null, "tickSize": {"condition": {"test": "datum.value % 10 === 0", "value": -8}, "value": -4}}},
    "y": {"field": "d", "type": "quantitative", "scale": {"domain": [1863, 2560], "nice": false, "zero": false, "clamp": true}, "axis": {"orient": "left", "values": [1900,2000,2100,2200,2300,2400,2500], "format": "d", "labelExpr": "datum.value % 200 === 0 ? datum.label : ''", "title": null, "labelPadding": 14, "tickSize": {"condition": {"test": "datum.value % 200 === 0", "value": -8}, "value": -4}}},
    "yError": {"field": "ed"}}},
  {"mark": {"type": "line", "interpolate": "step", "color": "#22eeee", "strokeWidth": 1},
   "encoding": {
    "x": {"field": "t", "type": "quantitative", "axis": {"orient": "top", "values": [-8,-6,-4,-2,0,2,4,6,8,10,12,14,16,18,20,22,24,26,28,30,32,34,36,38,40,42,44,46,48,50,52,54,56], "labels": false, "title": null, "tickSize": {"condition": {"test": "datum.value % 10 === 0", "value": -8}, "value": -4}}},
    "y": {"field": "d", "type": "quantitative", "axis": {"orient": "right", "values": [1900,2000,2100,2200,2300,2400,2500], "labels": false, "title": null, "tickSize": {"condition": {"test": "datum.value % 200 === 0", "value": -8}, "value": -4}}}}},
  {"data": {"values": [{"lab": "TH3"}]},
   "mark": {"type": "text", "align": "right", "baseline": "top", "dy": 3, "fontSize": 14, "font": "DejaVu Sans", "color": "#000"},
   "encoding": {"text": {"field": "lab"}, "x": {"datum": 56.1, "axis": null}, "y": {"datum": 2560, "axis": null}}}
 ],
 "resolve": {"axis": {"x": "independent", "y": "independent"}}
},
{"width": 603, "height": 90,
 "layer": [
  {"mark": {"type": "errorbar", "color": "#ff9aff", "thickness": 2},
   "encoding": {
    "x": {"field": "t", "type": "quantitative", "scale": {"domain": [-9.2, 57.1], "nice": false, "zero": false}, "axis": {"orient": "bottom", "values": [-8,-6,-4,-2,0,2,4,6,8,10,12,14,16,18,20,22,24,26,28,30,32,34,36,38,40,42,44,46,48,50,52,54,56], "labels": true, "labelExpr": "datum.value % 10 === 0 ? datum.label : ''", "labelPadding": 11, "title": "Time [sec] 0 = 2011/02/05 14:09:38.073", "titleFontSize": 14, "titleFont": "DejaVu Sans", "titleFontWeight": "normal", "titleColor": "#000", "titlePadding": 2, "tickSize": {"condition": {"test": "datum.value % 10 === 0", "value": -8}, "value": -4}}},
    "y": {"field": "e", "type": "quantitative", "scale": {"domain": [5300, 6720], "nice": false, "zero": false, "clamp": true}, "axis": {"orient": "left", "values": [5400,5500,5600,5700,5800,5900,6000,6100,6200,6300,6400,6500,6600,6700], "format": "d", "labelExpr": "datum.value % 500 === 0 ? datum.label : ''", "title": null, "labelPadding": 14, "tickSize": {"condition": {"test": "datum.value % 500 === 0", "value": -8}, "value": -4}}},
    "yError": {"field": "ee"}}},
  {"mark": {"type": "line", "interpolate": "step", "color": "#ff30ff", "strokeWidth": 1},
   "encoding": {
    "x": {"field": "t", "type": "quantitative", "axis": {"orient": "top", "values": [-8,-6,-4,-2,0,2,4,6,8,10,12,14,16,18,20,22,24,26,28,30,32,34,36,38,40,42,44,46,48,50,52,54,56], "labels": false, "title": null, "tickSize": {"condition": {"test": "datum.value % 10 === 0", "value": -8}, "value": -4}}},
    "y": {"field": "e", "type": "quantitative", "axis": {"orient": "right", "values": [5400,5500,5600,5700,5800,5900,6000,6100,6200,6300,6400,6500,6600,6700], "labels": false, "title": null, "tickSize": {"condition": {"test": "datum.value % 500 === 0", "value": -8}, "value": -4}}}}},
  {"data": {"values": [{"lab": "TH0123"}]},
   "mark": {"type": "text", "align": "right", "baseline": "top", "dy": 3, "fontSize": 14, "font": "DejaVu Sans", "color": "#000"},
   "encoding": {"text": {"field": "lab"}, "x": {"datum": 56.8, "axis": null}, "y": {"datum": 6720, "axis": null}}}
 ],
 "resolve": {"axis": {"x": "independent", "y": "independent"}}
}
],
"config": {
 "view": {"stroke": "#000", "strokeWidth": 1.5},
 "font": "DejaVu Sans",
 "axis": {"domain": false, "grid": false, "tickColor": "#333", "tickWidth": 1.2, "labelColor": "#000", "labelFont": "DejaVu Sans", "labelFontSize": 13, "labelOverlap": false, "labelFlush": false, "titleFont": "DejaVu Sans", "titleFontWeight": "normal", "titleColor": "#000"}
}
}
